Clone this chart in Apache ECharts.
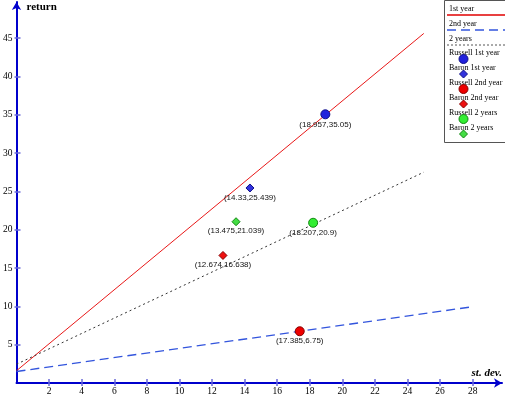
<!DOCTYPE html>
<html>
<head>
<meta charset="utf-8">
<script src="https://cdn.jsdelivr.net/npm/echarts@6/dist/echarts.min.js"></script>
<style>
  html, body { margin: 0; padding: 0; background: #fff; }
  #chart { width: 505px; height: 396px; }
</style>
</head>
<body>
<div id="chart"></div>
<script>
// capital allocation lines (start / end points)
const line1stYear = [[0, 1.6], [25, 45.6]]
const line2ndYear = [[0, 1.5], [28, 9.95]]
const line2Years = [[0, 2.45], [25, 27.5]]

// portfolio points: [st. dev., return]
const russell1st = [[18.957, 35.05]]
const baron1st = [[14.33, 25.439]]
const russell2nd = [[17.385, 6.75]]
const baron2nd = [[12.674, 16.638]]
const russell2 = [[18.207, 20.9]]
const baron2 = [[13.475, 21.039]]

const xTicks = [2, 4, 6, 8, 10, 12, 14, 16, 18, 20, 22, 24, 26, 28]
const yTicks = [5, 10, 15, 20, 25, 30, 35, 40, 45]

const legendNames = ['1st year', '2nd year', '2 years', 'Russell 1st year', 'Baron 1st year',
  'Russell 2nd year', 'Baron 2nd year', 'Russell 2 years', 'Baron 2 years']

const AXIS_BLUE = '#0000cc'
const TICK_BLUE = '#6a6ad8'
const SERIF = "'Liberation Serif', 'Times New Roman', serif"
const LABEL_FONT = "'Liberation Sans', Arial, sans-serif"

const chart = echarts.init(document.getElementById('chart'), null, { renderer: 'canvas' })

function xAxisCfg(inside) {
  return {
    type: 'value',
    min: 0,
    max: 29.8,
    position: 'bottom',
    name: inside ? '' : 'st. dev.',
    nameLocation: 'end',
    nameGap: 0,
    nameTextStyle: {
      fontFamily: SERIF, fontSize: 11, fontWeight: 'bold', fontStyle: 'italic',
      color: '#000', align: 'right', verticalAlign: 'bottom', padding: [0, 0, 4, 0]
    },
    axisLine: inside ? { show: false } : {
      show: true, onZero: false,
      symbol: ['none', 'arrow'], symbolSize: [7, 8],
      lineStyle: { color: AXIS_BLUE, width: 2 }
    },
    axisTick: {
      show: true, inside: inside, length: inside ? 4 : 3,
      customValues: xTicks,
      lineStyle: { color: TICK_BLUE, width: 1.5 }
    },
    axisLabel: {
      show: !inside, customValues: xTicks, margin: 3,
      fontFamily: SERIF, fontSize: 9.5, color: '#000'
    },
    splitLine: { show: false }
  }
}

function yAxisCfg(inside) {
  return {
    type: 'value',
    min: 0,
    max: 49.7,
    position: 'left',
    name: inside ? '' : 'return',
    nameLocation: 'end',
    nameGap: 0,
    nameTextStyle: {
      fontFamily: SERIF, fontSize: 11, fontWeight: 'bold',
      color: '#000', align: 'left', verticalAlign: 'top', padding: [0, 0, 0, 10]
    },
    axisLine: inside ? { show: false } : {
      show: true, onZero: false,
      symbol: ['none', 'arrow'], symbolSize: [7, 8],
      lineStyle: { color: AXIS_BLUE, width: 2 }
    },
    axisTick: {
      show: true, inside: inside, length: inside ? 4 : 2,
      customValues: yTicks,
      lineStyle: { color: TICK_BLUE, width: 1.5 }
    },
    axisLabel: {
      show: !inside, customValues: yTicks, margin: 4,
      fontFamily: SERIF, fontSize: 9.5, color: '#000'
    },
    splitLine: { show: false }
  }
}

function pointSeries(name, data, symbol, color, border, size) {
  return {
    name: name,
    type: 'scatter',
    data: data,
    symbol: symbol,
    symbolSize: size,
    itemStyle: { color: color, borderColor: border, borderWidth: 1, opacity: 1 },
    label: {
      show: true,
      position: 'bottom',
      distance: 1,
      fontFamily: LABEL_FONT,
      fontSize: 8,
      color: '#111',
      formatter: (p) => `(${p.value[0]},${p.value[1]})`
    },
    z: 5
  }
}

// legend drawn by hand: text with its sample below it
const legendTextY = [9, 24, 39, 53, 68, 83, 98, 113, 128]
const legendSamples = [
  { type: 'line', color: '#e00000', dash: null, width: 1.5 },
  { type: 'line', color: '#3355dd', dash: [9, 5], width: 1.5 },
  { type: 'line', color: '#555', dash: [2, 2], width: 1 },
  { type: 'circle', color: '#2222dd', border: '#111188' },
  { type: 'diamond', color: '#3333dd', border: '#111188' },
  { type: 'circle', color: '#ee0000', border: '#880000' },
  { type: 'diamond', color: '#ee1111', border: '#880000' },
  { type: 'circle', color: '#33ee33', border: '#118811' },
  { type: 'diamond', color: '#44dd44', border: '#118811' }
]

const legendGraphic = [{
  type: 'rect',
  shape: { x: 444.5, y: 0.5, width: 62, height: 142 },
  style: { fill: '#fff', stroke: '#555', lineWidth: 1 },
  z: 10
}]
legendNames.forEach((name, i) => {
  const ty = legendTextY[i]
  legendGraphic.push({
    type: 'text',
    x: 449, y: ty,
    style: { text: name, fontFamily: SERIF, fontSize: 8, fill: '#000', verticalAlign: 'middle' },
    z: 11
  })
  const s = legendSamples[i]
  const sy = ty + 6
  if (s.type === 'line') {
    legendGraphic.push({
      type: 'line',
      shape: { x1: 447, y1: sy, x2: 505, y2: sy },
      style: { stroke: s.color, lineWidth: s.width, lineDash: s.dash },
      z: 11
    })
  } else if (s.type === 'circle') {
    legendGraphic.push({
      type: 'circle',
      shape: { cx: 463.5, cy: sy, r: 4.5 },
      style: { fill: s.color, stroke: s.border, lineWidth: 1 },
      z: 11
    })
  } else {
    legendGraphic.push({
      type: 'polygon',
      shape: { points: [[463.5, sy - 4], [467.5, sy], [463.5, sy + 4], [459.5, sy]] },
      style: { fill: s.color, stroke: s.border, lineWidth: 1 },
      z: 11
    })
  }
})

const option = {
  backgroundColor: '#fff',
  animation: false,
  grid: { left: 16.5, right: 0, top: 2, bottom: 11, containLabel: false },
  xAxis: [xAxisCfg(false), xAxisCfg(true)],
  yAxis: [yAxisCfg(false), yAxisCfg(true)],
  series: [
    {
      name: '1st year', type: 'line', data: line1stYear, symbol: 'none',
      lineStyle: { color: '#e81818', width: 1 }, z: 3
    },
    {
      name: '2nd year', type: 'line', data: line2ndYear, symbol: 'none',
      lineStyle: { color: '#3355dd', width: 1.3, type: [9, 5] }, z: 3
    },
    {
      name: '2 years', type: 'line', data: line2Years, symbol: 'none',
      lineStyle: { color: '#333', width: 1, type: [2, 3] }, z: 3
    },
    pointSeries('Russell 1st year', russell1st, 'circle', '#2222dd', '#111188', 9),
    pointSeries('Baron 1st year', baron1st, 'diamond', '#3333dd', '#111188', 8),
    pointSeries('Russell 2nd year', russell2nd, 'circle', '#ee0000', '#880000', 9),
    pointSeries('Baron 2nd year', baron2nd, 'diamond', '#ee1111', '#880000', 8),
    pointSeries('Russell 2 years', russell2, 'circle', '#33ee33', '#118811', 9),
    pointSeries('Baron 2 years', baron2, 'diamond', '#44dd44', '#118811', 8)
  ],
  graphic: legendGraphic
}

chart.setOption(option)
</script>
</body>
</html>
